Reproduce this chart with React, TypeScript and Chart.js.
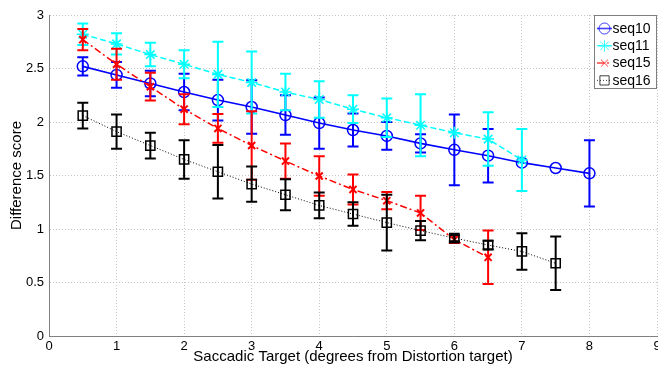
import React, { useEffect, useRef } from "react";
import { Chart, registerables } from "chart.js";

Chart.register(...registerables);

// ---- data ----
const seq10X = [0.5, 1, 1.5, 2, 2.5, 3, 3.5, 4, 4.5, 5, 5.5, 6, 6.5, 7, 7.5, 8];
const seq10Y = [2.52, 2.44, 2.36, 2.28, 2.205, 2.14, 2.065, 1.99, 1.925, 1.87, 1.8, 1.74, 1.685, 1.62, 1.57, 1.52];
const seq10Err = [0.085, 0.12, 0.12, 0.17, 0.19, 0.25, 0.185, 0.24, 0.155, 0.13, 0.085, 0.33, 0.25, 0, 0, 0.31];

const seq11X = [0.5, 1, 1.5, 2, 2.5, 3, 3.5, 4, 4.5, 5, 5.5, 6, 6.5, 7];
const seq11Y = [2.82, 2.73, 2.63, 2.54, 2.445, 2.37, 2.28, 2.21, 2.12, 2.04, 1.97, 1.9, 1.84, 1.645];
const seq11Err = [0.1, 0.1, 0.11, 0.13, 0.305, 0.29, 0.17, 0.17, 0.13, 0.18, 0.29, 0, 0.25, 0.29];

const seq15X = [0.5, 1, 1.5, 2, 2.5, 3, 3.5, 4, 4.5, 5, 5.5, 6, 6.5];
const seq15Y = [2.77, 2.54, 2.33, 2.12, 1.94, 1.78, 1.635, 1.495, 1.37, 1.265, 1.15, 0.9, 0.735];
const seq15Err = [0.1, 0.145, 0.13, 0.14, 0.135, 0.32, 0.165, 0.185, 0.14, 0.08, 0.16, 0.03, 0.25];

const seq16X = [0.5, 1, 1.5, 2, 2.5, 3, 3.5, 4, 4.5, 5, 5.5, 6, 6.5, 7, 7.5];
const seq16Y = [2.06, 1.91, 1.78, 1.65, 1.535, 1.42, 1.32, 1.22, 1.14, 1.06, 0.985, 0.915, 0.85, 0.79, 0.68];
const seq16Err = [0.12, 0.16, 0.12, 0.18, 0.25, 0.165, 0.145, 0.12, 0.11, 0.26, 0.09, 0.03, 0.04, 0.17, 0.25];

const seriesNames = ["seq10", "seq11", "seq15", "seq16"];
const xTitle = "Saccadic Target (degrees from Distortion target)";
const yTitle = "Difference score";

const FONT = "'Liberation Sans', Arial, sans-serif";

const toPoints = (xs: number[], ys: number[]) => xs.map((x, i) => ({ x, y: ys[i] }));

const styles = [
  { color: "#0000ff", dash: [] as number[], width: 1.6, point: "circle", radius: 5.5, pw: 1.5 },
  { color: "#00ffff", dash: [6, 3], width: 1.5, point: "star", radius: 6, pw: 1.5 },
  { color: "#ff0000", dash: [7, 3, 2, 3], width: 1.5, point: "crossRot", radius: 5, pw: 2 },
  { color: "#000000", dash: [1, 2], width: 1, point: "rect", radius: 6.5, pw: 1.5 },
];

const errorBarPlugin = {
  id: "errorBars",
  afterDatasetDraw(chart: any, args: any) {
    const ds = chart.data.datasets[args.index];
    const errs: number[] = ds.errors;
    if (!errs) return;
    const ctx = chart.ctx;
    const xs = chart.scales.x;
    const ys = chart.scales.y;
    ctx.save();
    ctx.strokeStyle = ds.borderColor;
    ctx.lineWidth = 2;
    ctx.setLineDash([]);
    ds.data.forEach((p: any, i: number) => {
      const e = errs[i];
      if (!e) return;
      const px = xs.getPixelForValue(p.x);
      const t = ys.getPixelForValue(p.y + e);
      const b = ys.getPixelForValue(p.y - e);
      ctx.beginPath();
      ctx.moveTo(px, t);
      ctx.lineTo(px, b);
      ctx.moveTo(px - 5.5, t);
      ctx.lineTo(px + 5.5, t);
      ctx.moveTo(px - 5.5, b);
      ctx.lineTo(px + 5.5, b);
      ctx.stroke();
    });
    ctx.restore();
  },
};

function drawMarker(ctx: CanvasRenderingContext2D, kind: string, x: number, y: number, r: number) {
  ctx.beginPath();
  if (kind === "circle") {
    ctx.arc(x, y, r, 0, Math.PI * 2);
  } else if (kind === "star") {
    for (let k = 0; k < 4; k++) {
      const a = (k * Math.PI) / 4;
      ctx.moveTo(x - Math.cos(a) * r, y - Math.sin(a) * r);
      ctx.lineTo(x + Math.cos(a) * r, y + Math.sin(a) * r);
    }
  } else if (kind === "crossRot") {
    const d = r * Math.SQRT1_2;
    ctx.moveTo(x - d, y - d);
    ctx.lineTo(x + d, y + d);
    ctx.moveTo(x - d, y + d);
    ctx.lineTo(x + d, y - d);
  } else {
    const s = r * Math.SQRT1_2;
    ctx.rect(x - s, y - s, 2 * s, 2 * s);
  }
  ctx.stroke();
}

const legendPlugin = {
  id: "insideLegend",
  afterDraw(chart: any) {
    const ctx: CanvasRenderingContext2D = chart.ctx;
    const area = chart.chartArea;
    const w = 63;
    const h = 74;
    const bx = area.right - w;
    const by = area.top;
    ctx.save();
    ctx.fillStyle = "#ffffff";
    ctx.fillRect(bx, by, w, h);
    ctx.strokeStyle = "#7f7f7f";
    ctx.lineWidth = 1;
    ctx.setLineDash([]);
    ctx.strokeRect(bx + 0.5, by + 0.5, w - 1, h - 1);
    seriesNames.forEach((name, i) => {
      const st = styles[i];
      const cy = by + 13.5 + i * 17.3;
      ctx.strokeStyle = st.color;
      ctx.globalAlpha = 0.75;
      ctx.lineWidth = st.width;
      ctx.setLineDash(st.dash);
      ctx.beginPath();
      ctx.moveTo(bx + 3, cy);
      ctx.lineTo(bx + 18, cy);
      ctx.stroke();
      ctx.setLineDash([]);
      ctx.lineWidth = 1;
      drawMarker(ctx, st.point, bx + 10.5, cy, st.radius);
      ctx.globalAlpha = 1;
      ctx.fillStyle = "#000000";
      ctx.font = `14px ${FONT}`;
      ctx.textBaseline = "middle";
      ctx.textAlign = "left";
      ctx.fillText(name, bx + 18.5, cy + 0.5);
    });
    ctx.restore();
  },
};

export default function App() {
  const ref = useRef<HTMLCanvasElement | null>(null);

  useEffect(() => {
    if (!ref.current) return;
    const sets = [
      { xs: seq10X, ys: seq10Y, err: seq10Err },
      { xs: seq11X, ys: seq11Y, err: seq11Err },
      { xs: seq15X, ys: seq15Y, err: seq15Err },
      { xs: seq16X, ys: seq16Y, err: seq16Err },
    ];
    const datasets: any[] = sets.map((s, i) => {
      const st = styles[i];
      return {
        label: seriesNames[i],
        data: toPoints(s.xs, s.ys),
        errors: s.err,
        borderColor: st.color,
        backgroundColor: "rgba(0,0,0,0)",
        borderWidth: st.width,
        borderDash: st.dash,
        pointStyle: st.point,
        pointRadius: st.radius,
        pointBorderWidth: st.pw,
        pointBorderColor: st.color,
        pointBackgroundColor: "rgba(0,0,0,0)",
        tension: 0,
        fill: false,
        order: 4 - i,
      };
    });

    const chart = new Chart(ref.current, {
      type: "line",
      data: { datasets },
      plugins: [errorBarPlugin, legendPlugin],
      options: {
        animation: false,
        responsive: false,
        devicePixelRatio: 1,
        layout: { padding: { top: 15, right: 0, left: 0, bottom: 0 } },
        plugins: {
          legend: { display: false },
          tooltip: { enabled: false },
        },
        scales: {
          x: {
            type: "linear",
            min: 0,
            max: 9,
            ticks: {
              stepSize: 1,
              color: "#000",
              padding: 3,
              font: { family: FONT, size: 13 },
              callback: (v: any) => String(v),
            },
            grid: {
              color: "#c4c4c4",
              lineWidth: 1,
              drawTicks: false,
            },
            border: { display: true, color: "#808080", width: 1, dash: [1, 2] },
            title: {
              display: true,
              text: xTitle,
              color: "#000",
              font: { family: FONT, size: 15 },
              padding: { top: 0, bottom: 2 },
            },
            afterFit: (scale: any) => {
              scale.height = 32;
            },
          } as any,
          y: {
            type: "linear",
            min: 0,
            max: 3,
            ticks: {
              stepSize: 0.5,
              color: "#000",
              padding: 5,
              font: { family: FONT, size: 13 },
              callback: (v: any) => String(v),
            },
            grid: {
              color: "#c4c4c4",
              lineWidth: 1,
              drawTicks: false,
            },
            border: { display: true, color: "#808080", width: 1, dash: [1, 2] },
            title: {
              display: true,
              text: yTitle,
              color: "#000",
              font: { family: FONT, size: 15 },
              padding: { top: 8, bottom: 0 },
            },
            afterFit: (scale: any) => {
              scale.width = 49;
            },
          } as any,
        },
      },
    });

    return () => chart.destroy();
  }, []);

  return (
    <div
      style={{
        position: "fixed",
        left: 0,
        top: 0,
        width: 658,
        height: 368,
        overflow: "hidden",
        background: "#ffffff",
      }}
    >
      <canvas ref={ref} width={665} height={368} style={{ width: 665, height: 368, display: "block" }} />
    </div>
  );
}
